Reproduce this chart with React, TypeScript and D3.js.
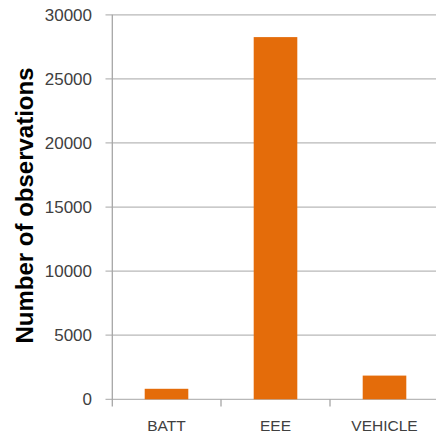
import React from "react";
import * as d3 from "d3";

const categories = ["BATT", "EEE", "VEHICLE"];
const observations = [820, 28260, 1850];
const yTicks = [0, 5000, 10000, 15000, 20000, 25000, 30000];

const W = 436;
const H = 436;

export default function App() {
  const x = d3
    .scaleBand<string>()
    .domain(categories)
    .range([112, 439])
    .paddingInner(0.6)
    .paddingOuter(0.3);
  const y = d3.scaleLinear().domain([0, 30000]).range([399.3, 14.8]);
  const step = x.step();
  const bounds = [112, 112 + step, 112 + 2 * step];

  return (
    <svg
      width={W}
      height={H}
      style={{ position: "fixed", left: 0, top: 0, background: "#fff" }}
    >
      {/* horizontal gridlines with short ticks to the left of the axis */}
      {yTicks.map((t) => (
        <line
          key={"g" + t}
          x1={105.5}
          x2={W}
          y1={y(t)}
          y2={y(t)}
          stroke="#b8b8b8"
          strokeWidth={1.3}
        />
      ))}
      {/* vertical axis */}
      <line x1={112.3} x2={112.3} y1={y(30000)} y2={406.5} stroke="#a6a6a6" strokeWidth={1.3} />
      {/* category tick marks */}
      {bounds.slice(1).map((b) => (
        <line key={"c" + b} x1={b} x2={b} y1={399.3} y2={406.5} stroke="#a6a6a6" strokeWidth={1.3} />
      ))}
      {/* bars */}
      {categories.map((c, i) => (
        <rect
          key={c}
          x={x(c)}
          y={y(observations[i])}
          width={x.bandwidth()}
          height={y(0) - y(observations[i])}
          fill="#e46c0a"
        />
      ))}
      {/* y tick labels */}
      {yTicks.map((t) => (
        <text
          key={"t" + t}
          x={92}
          y={y(t) + 6}
          textAnchor="end"
          fontFamily="'Liberation Sans', Arial, sans-serif"
          fontSize={17}
          fill="#404040"
        >
          {t}
        </text>
      ))}
      {/* category labels */}
      {categories.map((c) => (
        <text
          key={"l" + c}
          x={(x(c) as number) + x.bandwidth() / 2}
          y={431}
          textAnchor="middle"
          fontFamily="'Liberation Sans', Arial, sans-serif"
          fontSize={15.5}
          fill="#404040"
        >
          {c}
        </text>
      ))}
      {/* y axis title */}
      <text
        transform="translate(32.5,205.5) rotate(-90)"
        textAnchor="middle"
        fontFamily="'Liberation Sans', Arial, sans-serif"
        fontWeight="bold"
        fontSize={24}
        fill="#000"
      >
        Number of observations
      </text>
    </svg>
  );
}
